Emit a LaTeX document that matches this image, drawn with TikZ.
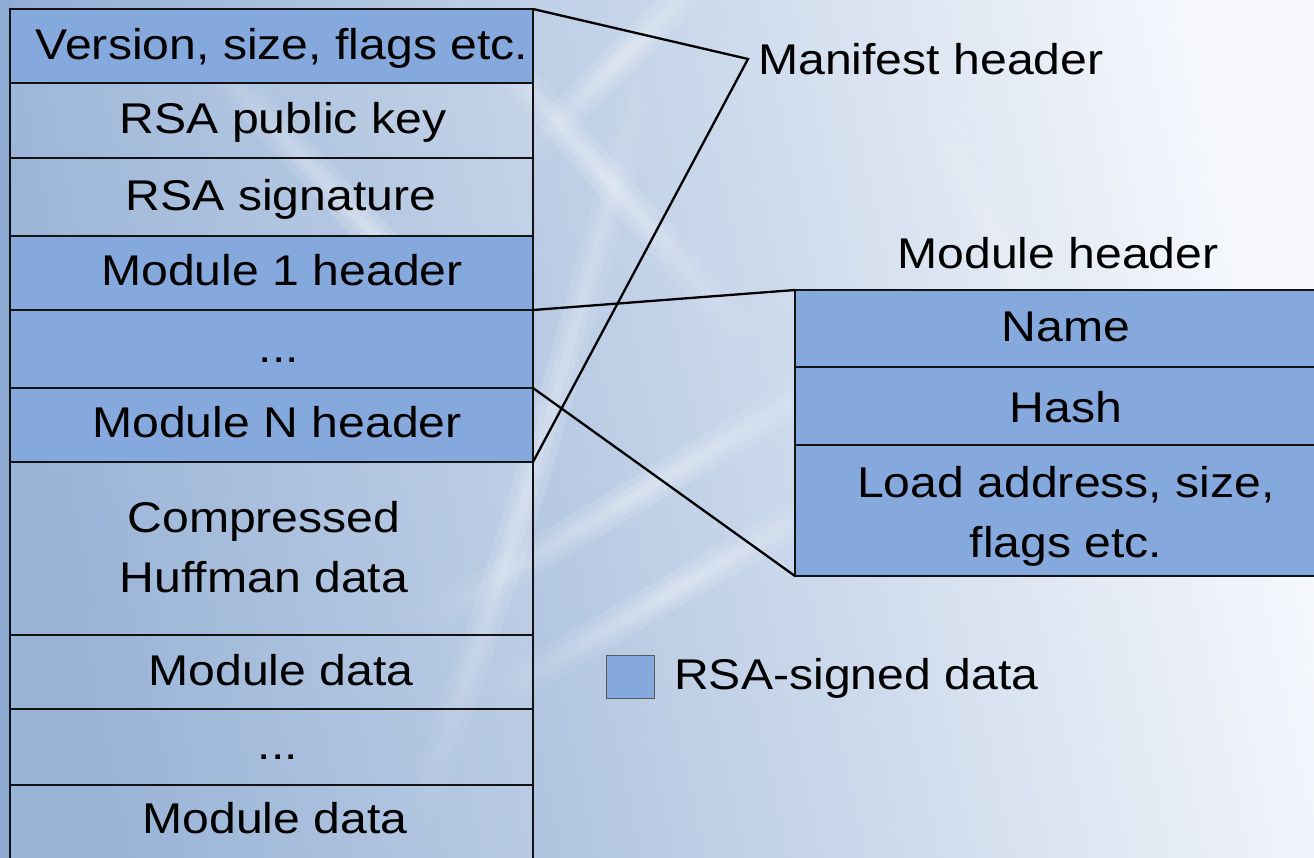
\documentclass[tikz,border=0pt]{standalone}
\usepackage{fontspec}
\setmainfont[FakeStretch=1.12]{Liberation Sans}
\usetikzlibrary{fadings}
\tikzfading[name=streakfade, inner color=transparent!0, outer color=transparent!100]
\definecolor{signed}{RGB}{134,169,221}
\definecolor{bgA}{RGB}{140,170,210}
\definecolor{bgB}{RGB}{192,214,237}
\definecolor{bgC}{RGB}{246,248,252}
\definecolor{edge}{RGB}{18,18,18}
\begin{document}
\begin{tikzpicture}[x=1pt,y=-1pt,
  cell/.style={draw=edge, line width=2.3pt, inner sep=0pt, outer sep=0pt,
               minimum width=523pt},
  signedcell/.style={cell, fill=signed},
  plaincell/.style={cell, fill=white, fill opacity=0.12},
  modcell/.style={draw=edge, line width=2.8pt, fill=signed, inner sep=0pt,
                  outer sep=0pt, minimum width=542pt},
  txt/.style={font=\fontsize{43pt}{60pt}\selectfont, inner sep=0pt,
              text=black, align=center},
  link/.style={draw=black, line width=2.3pt, line join=miter},
  glow/.style={draw=white, line cap=round, opacity=0.16, path fading=streakfade}]

% canvas
\useasboundingbox (0,0) rectangle (1314,857);
\clip (0,0) rectangle (1314,857);
\shade[top color=bgC, middle color=bgB, bottom color=bgA, shading angle=-78]
  (0,0) rectangle (1314,857);

% soft light streaks of the backdrop, each built from stacked strokes
\foreach \w in {34,20,9}{
  \path[glow, line width=\w pt] (330,680) -- (960,300);
  \path[glow, line width=\w pt] (420,740) -- (930,440);
  \path[glow, line width=\w pt] (700,-120) .. controls (590,250) and (540,520) .. (360,960);
  \path[glow, line width=\w pt] (380,-80) -- (820,420);
  \path[glow, line width=\w pt] (480,200) -- (760,-80);
  \path[glow, line width=\w pt] (860,-100) .. controls (980,300) and (1150,520) .. (1400,650);
  \path[glow, line width=\w pt] (100,-60) -- (640,520);
}
\fill[bgA, opacity=0.30] (10,462) .. controls (140,470) and (170,570) .. (60,640) -- (10,640) -- cycle;
\fill[bgA, opacity=0.25] (0,0) rectangle (12,857);

% manifest column
\node[signedcell, minimum height=74pt] (r1) at (271.5,46) {};
\node[plaincell,  minimum height=75pt] (r2) at (271.5,120.5) {};
\node[plaincell,  minimum height=78pt] (r3) at (271.5,197) {};
\node[signedcell, minimum height=74pt] (r4) at (271.5,273) {};
\node[signedcell, minimum height=78pt] (r5) at (271.5,349) {};
\node[signedcell, minimum height=74pt] (r6) at (271.5,425) {};
\node[plaincell,  minimum height=173pt] (r7) at (271.5,548.5) {};
\node[plaincell,  minimum height=74pt] (r8) at (271.5,672) {};
\node[plaincell,  minimum height=76pt] (r9) at (271.5,747) {};
\node[plaincell,  minimum height=76pt] (r10) at (271.5,823) {};

\node[txt, anchor=base] (t1) at (282,59) {Version, size, flags etc.};
\node[txt, anchor=base] (t2) at (283,133) {RSA public key};
\node[txt, anchor=base] (t3) at (281,210) {RSA signature};
\node[txt, anchor=base] (t4) at (282,285) {Module 1 header};
\node[txt, anchor=base] (t5) at (279,362) {...};
\node[txt, anchor=base] (t6) at (277,437) {Module N header};
\node[txt] (t7) at (264,547) {Compressed\\Huffman data};
\node[txt, anchor=base] (t8) at (281,685) {Module data};
\node[txt, anchor=base] (t9) at (278,759) {...};
\node[txt, anchor=base] (t10) at (275,833) {Module data};

% module header table
\node[txt, anchor=base] (mtitle) at (1058,268) {Module header};
\node[modcell, minimum height=77pt] (m1) at (1066,328.5) {};
\node[modcell, minimum height=78pt] (m2) at (1066,406) {};
\node[modcell, minimum height=131pt] (m3) at (1066,510.5) {};
\node[txt, anchor=base] (n1) at (1066,341) {Name};
\node[txt, anchor=base] (n2) at (1066,422) {Hash};
\node[txt] (n3) at (1066,516) {Load address, size,\\flags etc.};

% manifest header callout
\node[txt, anchor=base west] (mlabel) at (758,74) {Manifest header};
\coordinate (mtip) at (748,59);
\draw[link] (r1.north east) -- (mtip) -- (r6.south east);

% module header callout
\draw[link] (r5.north east) -- (m1.north west);
\draw[link] (r5.south east) -- (m3.south west);

% legend
\node[draw=gray!70!black, line width=0.8pt, fill=signed, minimum width=48pt,
      minimum height=43pt, inner sep=0pt] (key) at (630.5,677) {};
\node[txt, anchor=base west] (keytext) at (674,689) {RSA-signed data};
\end{tikzpicture}
\end{document}
